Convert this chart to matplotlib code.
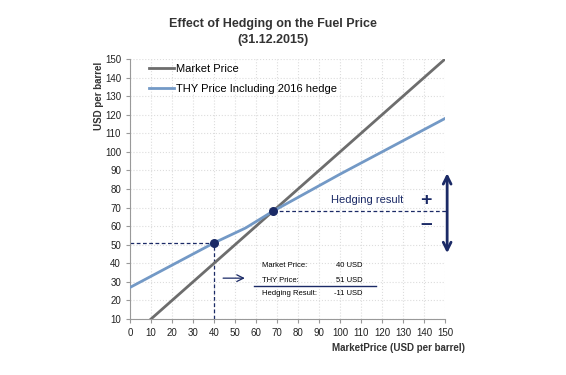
import numpy as np
import matplotlib.pyplot as plt

plt.rcParams['font.family'] = ['Liberation Sans', 'DejaVu Sans']

# data
market_x = [10, 150]
market_y = [10, 150]
thy_x = [0, 20, 40, 55, 68, 100, 150]
thy_y = [27, 39, 51, 59, 68, 88, 118]
points_x = [40, 68]
points_y = [51, 68]
x_ticks = list(range(0, 151, 10))
y_ticks = list(range(10, 151, 10))

navy = '#1b2a66'
gray = '#6d6d6d'
blue = '#7399c6'

fig = plt.figure(figsize=(5.66, 3.75), dpi=100)
ax = fig.add_axes([0.2297, 0.1493, 0.5566, 0.6933])

ax.plot(market_x, market_y, color=gray, lw=2, label='Market Price', zorder=3)
ax.plot(thy_x, thy_y, color=blue, lw=2, label='THY Price Including 2016 hedge', zorder=3)

# dashed guides
ax.plot([0, 40], [51, 51], ls='--', color=navy, lw=0.9, dashes=(3, 2), zorder=2)
ax.plot([40, 40], [10, 51], ls='--', color=navy, lw=0.9, dashes=(3, 2), zorder=2)
ax.plot([68, 151], [68, 68], ls='--', color=navy, lw=0.9, dashes=(3, 2), zorder=2, clip_on=False)
ax.scatter(points_x, points_y, s=30, color=navy, zorder=4)

ax.set_xlim(0, 150)
ax.set_ylim(10, 150)
ax.set_xticks(x_ticks)
ax.set_yticks(y_ticks)
ax.tick_params(labelsize=7, length=3, color='#999999', colors='#222222')
ax.grid(True, color='#dddddd', ls=':', lw=0.8)
for s in ['top', 'right']:
    ax.spines[s].set_visible(False)
for s in ['left', 'bottom']:
    ax.spines[s].set_color('#999999')

leg = ax.legend(loc='upper left', bbox_to_anchor=(0.03, 1.02), frameon=False,
                fontsize=8, handlelength=2.2, handletextpad=0.2, labelspacing=0.9)

# hedging result arrow
ax.annotate('', xy=(151, 44), xytext=(151, 90),
            arrowprops=dict(arrowstyle='<->', color=navy, lw=2, mutation_scale=14),
            annotation_clip=False)
ax.text(141, 74, '+', color=navy, fontsize=14, fontweight='bold', ha='center', va='center')
ax.text(141, 61.5, '\u2013', color=navy, fontsize=15, fontweight='bold', ha='center', va='center')
ax.text(113, 74, 'Hedging result', color=navy, fontsize=8, ha='center', va='center')

# calculation box
ax.annotate('', xy=(56, 32), xytext=(43, 32),
            arrowprops=dict(arrowstyle='->', color=navy, lw=0.9, mutation_scale=12))
ax.text(63, 39, 'Market Price:', fontsize=5.5, va='center')
ax.text(98, 39, '40 USD', fontsize=5.5, va='center')
ax.text(63, 31, 'THY Price:', fontsize=5.5, va='center')
ax.text(98, 31, '51 USD', fontsize=5.5, va='center')
ax.plot([59, 117], [28, 28], color=navy, lw=1)
ax.text(63, 23.5, 'Hedging Result:', fontsize=5.5, va='center')
ax.text(97, 23.5, '-11 USD', fontsize=5.5, va='center')

fig.text(0.483, 0.935, 'Effect of Hedging on the Fuel Price', ha='center', va='center',
         fontsize=9, fontweight='bold', color='#333333')
fig.text(0.483, 0.893, '(31.12.2015)', ha='center', va='center',
         fontsize=9, fontweight='bold', color='#333333')
fig.text(0.175, 0.745, 'USD per barrel', rotation=90, ha='center', va='center',
         fontsize=7, fontweight='bold', color='#333333')
fig.text(0.822, 0.072, 'MarketPrice (USD per barrel)', ha='right', va='center',
         fontsize=7, fontweight='bold', color='#333333')

fig.savefig('out.png', dpi=100)
